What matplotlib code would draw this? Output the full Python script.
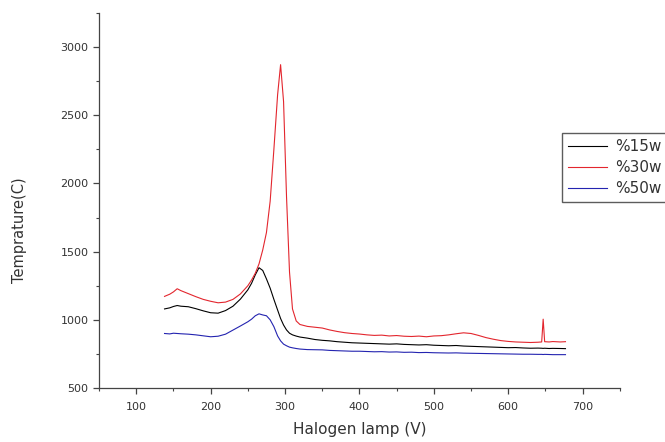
import matplotlib
matplotlib.use("Agg")
import matplotlib.pyplot as plt
from matplotlib.ticker import MultipleLocator

plt.rcParams['font.family'] = ['DejaVu Sans']

# Halogen lamp voltage (V)
volts = [138, 145, 150, 155, 160, 170, 180, 190, 200, 210, 220, 230, 240, 250,
         255, 260, 265, 270, 275, 280, 285, 290, 294, 298, 302, 306, 310, 315,
         320, 330, 340, 350, 360, 370, 380, 390, 400, 410, 420, 430, 440, 450,
         460, 470, 480, 490, 500, 510, 520, 530, 540, 550, 560, 570, 580, 590,
         600, 610, 620, 630, 640, 645, 647, 649, 655, 660, 670, 677]

# Temperature (C) for each power level
temp_15w = [1080, 1088, 1098, 1105, 1100, 1096, 1082, 1066, 1052, 1049, 1068, 1100,
            1152, 1220, 1268, 1330, 1382, 1362, 1300, 1232, 1150, 1072, 1010, 962,
            926, 902, 890, 881, 874, 866, 856, 850, 846, 840, 836, 832, 830, 828,
            826, 824, 822, 824, 820, 818, 816, 818, 814, 812, 810, 812, 808, 806,
            804, 802, 800, 798, 796, 797, 794, 792, 793, 792, 791, 792, 790, 791,
            790, 789]
temp_30w = [1172, 1188, 1205, 1228, 1214, 1192, 1170, 1150, 1136, 1125, 1130, 1150,
            1190, 1250, 1292, 1342, 1410, 1512, 1640, 1870, 2250, 2650, 2870, 2600,
            1900, 1350, 1080, 992, 966, 952, 946, 940, 926, 915, 906, 900, 896, 890,
            886, 888, 882, 885, 880, 878, 881, 876, 882, 884, 890, 898, 905, 900,
            886, 870, 858, 848, 842, 838, 836, 834, 836, 838, 1005, 840, 838, 841,
            838, 840]
temp_50w = [900, 897, 902, 900, 898, 895, 890, 883, 876, 880, 895, 925,
            955, 986, 1005, 1030, 1044, 1036, 1030, 1000, 950, 882, 846, 822,
            810, 800, 795, 790, 786, 782, 781, 780, 776, 774, 772, 770, 770, 768,
            766, 767, 764, 765, 762, 763, 760, 761, 759, 758, 757, 758, 756, 755,
            754, 753, 752, 751, 750, 749, 748, 748, 747, 747, 746, 747, 746, 745,
            745, 745]

fig = plt.figure(figsize=(6.65, 4.42), dpi=100)
ax = fig.add_axes([0.149, 0.122, 0.783, 0.849])

ax.plot(volts, temp_15w, color='black', lw=0.8, label='%15w')
ax.plot(volts, temp_30w, color='#e3262e', lw=0.8, label='%30w')
ax.plot(volts, temp_50w, color='#2424b0', lw=0.8, label='%50w')

ax.set_xlim(50, 750)
ax.set_ylim(500, 3250)
ax.xaxis.set_major_locator(MultipleLocator(100))
ax.xaxis.set_minor_locator(MultipleLocator(50))
ax.yaxis.set_major_locator(MultipleLocator(500))
ax.yaxis.set_minor_locator(MultipleLocator(250))

for side in ['top', 'right']:
    ax.spines[side].set_visible(False)
for side in ['left', 'bottom']:
    ax.spines[side].set_color('#444444')
    ax.spines[side].set_linewidth(0.9)

ax.tick_params(which='major', direction='out', length=4, width=0.9,
               color='#444444', labelsize=8, labelcolor='#333333')
ax.tick_params(which='minor', direction='out', length=2.5, width=0.8,
               color='#444444')
ax.tick_params(axis='x', pad=6)

ax.set_xlabel('Halogen lamp (V)', fontsize=11, color='#333333', labelpad=7)
ax.set_ylabel('Temprature(C)', fontsize=10.5, color='#333333')
ax.yaxis.set_label_coords(-0.138, 0.42)

leg = ax.legend(loc='upper left', bbox_to_anchor=(562 / 665, 1 - 133 / 442),
                bbox_transform=fig.transFigure, borderaxespad=0, fontsize=11,
                frameon=True, fancybox=False, handlelength=2.55,
                handletextpad=0.5, labelspacing=0.4, borderpad=0.4)
leg.get_frame().set_edgecolor('#333333')
leg.get_frame().set_linewidth(1.0)
for t in leg.get_texts():
    t.set_color('#333333')

fig.savefig('out.png', dpi=100)
